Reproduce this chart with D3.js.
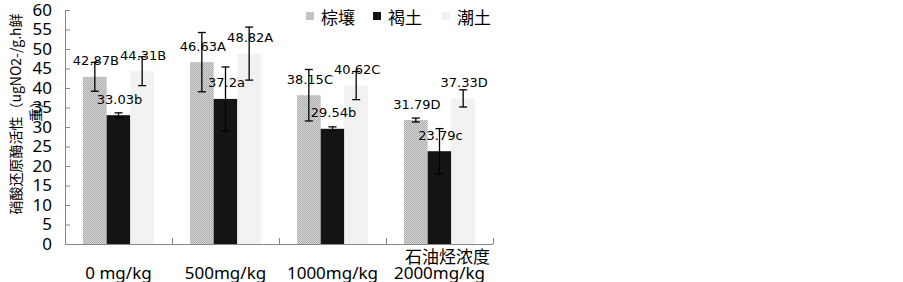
<!DOCTYPE html>
<html>
<head>
<meta charset="utf-8">
<script src="https://cdn.jsdelivr.net/npm/d3@7"></script>
<style>
  body { margin: 0; background: #fff; }
  svg { display: block; }
</style>
</head>
<body>
<svg id="chart" width="903" height="282"></svg>
<script>
// categories and series
const categories = ["0 mg/kg", "500mg/kg", "1000mg/kg", "2000mg/kg"];
const seriesNames = ["棕壤", "褐土", "潮土"];
const brownSoil = [42.87, 46.63, 38.15, 31.79];
const cinnamonSoil = [33.03, 37.2, 29.54, 23.79];
const fluvoSoil = [44.31, 48.82, 40.62, 37.33];
const brownErr = [3.7, 7.6, 6.6, 0.5];
const cinnamonErr = [0.6, 8.2, 0.5, 5.8];
const fluvoErr = [3.7, 6.8, 3.6, 2.2];
const brownLetters = ["B", "A", "C", "D"];
const cinnamonLetters = ["b", "a", "b", "c"];
const fluvoLetters = ["B", "A", "C", "D"];
const yTicks = [0, 5, 10, 15, 20, 25, 30, 35, 40, 45, 50, 55, 60];

const svg = d3.select("#chart");
const axisColor = "#868686";

// patterns for the hatched bars
const defs = svg.append("defs");
function checker(id, c1, c2) {
    let p = defs.append("pattern")
        .attr("id", id)
        .attr("width", 2).attr("height", 2)
        .attr("patternUnits", "userSpaceOnUse");
    p.append("rect").attr("width", 2).attr("height", 2).attr("fill", c1);
    p.append("rect").attr("width", 1).attr("height", 1).attr("fill", c2);
    p.append("rect").attr("x", 1).attr("y", 1).attr("width", 1).attr("height", 1).attr("fill", c2);
}
checker("patGray", "#d6d6d6", "#adadad");
checker("patLight", "#f7f7f7", "#ececec");

const fills = ["url(#patGray)", "#141414", "url(#patLight)"];
const legendFills = ["url(#patGray)", "#141414", "url(#patLight)"];

const series = [
    { name: seriesNames[0], values: brownSoil, err: brownErr, letters: brownLetters },
    { name: seriesNames[1], values: cinnamonSoil, err: cinnamonErr, letters: cinnamonLetters },
    { name: seriesNames[2], values: fluvoSoil, err: fluvoErr, letters: fluvoLetters }
];

const x = d3.scaleBand()
    .domain(categories)
    .range([65, 493])
    .paddingInner(0)
    .paddingOuter(0);

const xSub = d3.scaleBand()
    .domain(d3.range(series.length))
    .range([18, x.bandwidth() - 18]);

const y = d3.scaleLinear()
    .domain([0, 60])
    .range([244, 10]);

// bars
series.forEach((s, si) => {
    svg.append("g")
        .selectAll("rect")
        .data(s.values)
        .join("rect")
        .attr("x", (d, i) => x(categories[i]) + xSub(si))
        .attr("y", d => y(d))
        .attr("width", xSub.bandwidth())
        .attr("height", d => y(0) - y(d))
        .attr("fill", fills[si]);
});

// y axis
const yAxis = svg.append("g")
    .attr("transform", "translate(65,0)")
    .call(d3.axisLeft(y).tickValues(yTicks).tickSize(-5).tickPadding(13));
yAxis.select(".domain").attr("stroke", axisColor).attr("d", "M0.5," + y(60) + "V" + y(0));
yAxis.selectAll(".tick line").attr("stroke", axisColor);
yAxis.selectAll(".tick text")
    .attr("fill", "#000")
    .style("font-family", "'Noto Sans', 'Open Sans', sans-serif")
    .style("font-size", "17px");

// x axis
const xAxisG = svg.append("g").attr("transform", "translate(0," + y(0) + ")");
xAxisG.append("line")
    .attr("x1", 65).attr("x2", 493)
    .attr("y1", 0.5).attr("y2", 0.5)
    .attr("stroke", axisColor).attr("stroke-width", 1.2);
xAxisG.selectAll(".ctick")
    .data(categories)
    .join("line")
    .attr("class", "ctick")
    .attr("x1", d => x(d) + x.bandwidth() + 0.5)
    .attr("x2", d => x(d) + x.bandwidth() + 0.5)
    .attr("y1", 0).attr("y2", -6)
    .attr("stroke", axisColor);
xAxisG.selectAll(".clabel")
    .data(categories)
    .join("text")
    .attr("class", "clabel")
    .attr("x", d => x(d) + x.bandwidth() / 2)
    .attr("y", 28)
    .attr("text-anchor", "middle")
    .attr("dominant-baseline", "central")
    .style("font-family", "'Noto Sans', 'Open Sans', sans-serif")
    .style("font-size", "17px")
    .text(d => d);

// error bars
series.forEach((s, si) => {
    let g = svg.append("g").attr("stroke", "#000").attr("stroke-width", 1.3);
    s.values.forEach((v, i) => {
        let cx = x(categories[i]) + xSub(si) + xSub.bandwidth() / 2;
        let top = y(v + s.err[i]);
        let bot = y(v - s.err[i]);
        g.append("line").attr("x1", cx).attr("x2", cx).attr("y1", top).attr("y2", bot);
        g.append("line").attr("x1", cx - 4).attr("x2", cx + 4).attr("y1", top).attr("y2", top);
        g.append("line").attr("x1", cx - 4).attr("x2", cx + 4).attr("y1", bot).attr("y2", bot);
    });
});

// data labels
series.forEach((s, si) => {
    svg.append("g")
        .selectAll("text")
        .data(s.values)
        .join("text")
        .attr("x", (d, i) => x(categories[i]) + xSub(si) + xSub.bandwidth() / 2 + 1)
        .attr("y", d => y(d) - 16)
        .attr("text-anchor", "middle")
        .attr("dominant-baseline", "central")
        .style("font-family", "'DejaVu Sans', sans-serif")
        .style("font-size", "13px")
        .attr("fill", "#000")
        .text((d, i) => d + s.letters[i]);
});

// legend
const legendX = [306, 373, 442];
series.forEach((s, si) => {
    svg.append("rect")
        .attr("x", legendX[si]).attr("y", 12)
        .attr("width", 8).attr("height", 8)
        .attr("fill", legendFills[si]);
    svg.append("text")
        .attr("x", legendX[si] + 15).attr("y", 16)
        .attr("dominant-baseline", "central")
        .style("font-family", "'Noto Sans CJK SC', sans-serif")
        .style("font-size", "17px")
        .text(s.name);
});

// axis titles
svg.append("text")
    .attr("x", 405).attr("y", 255)
    .attr("dominant-baseline", "central")
    .style("font-family", "'Noto Sans CJK SC', sans-serif")
    .style("font-size", "17px")
    .text("石油烃浓度");

svg.append("text")
    .attr("transform", "translate(15,114) rotate(-90)")
    .attr("text-anchor", "middle")
    .attr("dominant-baseline", "central")
    .style("font-family", "'Noto Sans CJK SC', sans-serif")
    .style("font-size", "14px")
    .text("硝酸还原酶活性（ugNO2-/g.h鲜");

svg.append("text")
    .attr("transform", "translate(35,108) rotate(-90)")
    .attr("text-anchor", "middle")
    .attr("dominant-baseline", "central")
    .style("font-family", "'Noto Sans CJK SC', sans-serif")
    .style("font-size", "14px")
    .text("重）");
</script>
</body>
</html>
